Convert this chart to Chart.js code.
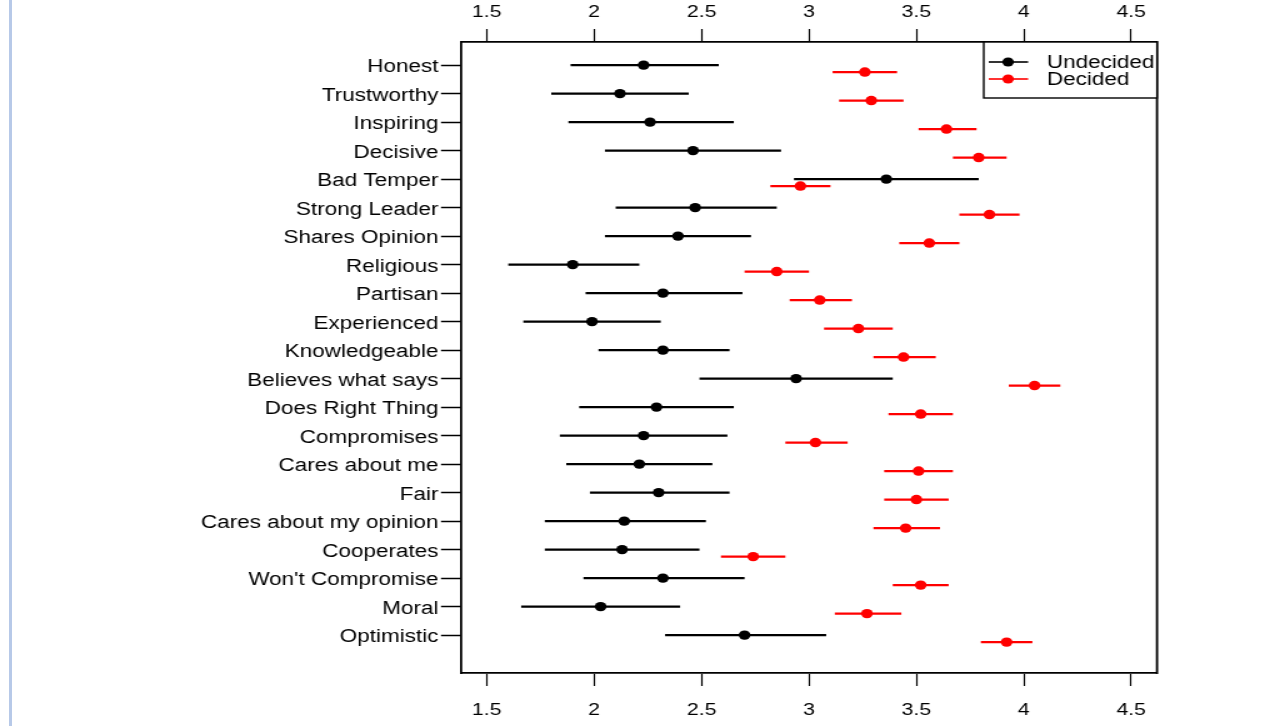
<!DOCTYPE html>
<html>
<head>
<meta charset="utf-8">
<script src="https://cdn.jsdelivr.net/npm/chart.js@4"></script>
<style>
  html, body { margin: 0; padding: 0; background: #fff; overflow: hidden; }
  #wrap { position: absolute; left: 0; top: 0; width: 1012px; height: 726px; transform: scaleX(1.25); transform-origin: 0 0; }
  #edge { position: absolute; left: 9px; top: 0; width: 3px; height: 726px; background: #b7c9e8; }
</style>
</head>
<body>
<div id="wrap"><canvas id="chart" width="1012" height="726"></canvas></div>
<div id="edge"></div>
<script>
// traits, top to bottom
const categories = ["Honest", "Trustworthy", "Inspiring", "Decisive", "Bad Temper", "Strong Leader",
  "Shares Opinion", "Religious", "Partisan", "Experienced", "Knowledgeable", "Believes what says",
  "Does Right Thing", "Compromises", "Cares about me", "Fair", "Cares about my opinion",
  "Cooperates", "Won't Compromise", "Moral", "Optimistic"];

const undecidedMean = [2.23, 2.12, 2.26, 2.46, 3.36, 2.47, 2.39, 1.90, 2.32, 1.99, 2.32, 2.94, 2.29, 2.23, 2.21, 2.30, 2.14, 2.13, 2.32, 2.03, 2.70];
const undecidedLow  = [1.89, 1.80, 1.88, 2.05, 2.93, 2.10, 2.05, 1.60, 1.96, 1.67, 2.02, 2.49, 1.93, 1.84, 1.87, 1.98, 1.77, 1.77, 1.95, 1.66, 2.33];
const undecidedHigh = [2.58, 2.44, 2.65, 2.87, 3.79, 2.85, 2.73, 2.21, 2.69, 2.31, 2.63, 3.39, 2.65, 2.62, 2.55, 2.63, 2.52, 2.49, 2.70, 2.40, 3.08];

const decidedMean = [3.26, 3.29, 3.64, 3.79, 2.96, 3.84, 3.56, 2.85, 3.05, 3.23, 3.44, 4.05, 3.52, 3.03, 3.51, 3.50, 3.45, 2.74, 3.52, 3.27, 3.92];
const decidedLow  = [3.11, 3.14, 3.51, 3.67, 2.82, 3.70, 3.42, 2.70, 2.91, 3.07, 3.30, 3.93, 3.37, 2.89, 3.35, 3.35, 3.30, 2.59, 3.39, 3.12, 3.80];
const decidedHigh = [3.41, 3.44, 3.78, 3.92, 3.10, 3.98, 3.70, 3.00, 3.20, 3.39, 3.59, 4.17, 3.67, 3.18, 3.67, 3.65, 3.61, 2.89, 3.65, 3.43, 4.04];

const xTicks = [1.5, 2, 2.5, 3, 3.5, 4, 4.5];

const FONT = "'Liberation Sans', Arial, sans-serif";
const RED_SHIFT = 0.245; // decided row sits a bit below undecided

function bars(lo, hi, shift) {
  const pts = [];
  lo.forEach((v, i) => {
    pts.push({ x: v, y: i + shift }, { x: hi[i], y: i + shift }, { x: null, y: null });
  });
  return pts;
}
function dots(m, shift) {
  return m.map((v, i) => ({ x: v, y: i + shift }));
}

const groups = [
  { label: "Undecided", color: "#000000", mean: undecidedMean, lo: undecidedLow, hi: undecidedHigh, shift: 0 },
  { label: "Decided", color: "#ff0000", mean: decidedMean, lo: decidedLow, hi: decidedHigh, shift: RED_SHIFT }
];

const datasets = [];
groups.forEach(g => {
  datasets.push({ label: g.label + " CI", data: bars(g.lo, g.hi, g.shift), borderColor: g.color,
    borderWidth: 2.3, pointRadius: 0, spanGaps: false, showLine: true, order: 2 });
  datasets.push({ label: g.label, data: dots(g.mean, g.shift), showLine: false, pointRadius: 4.7,
    pointHoverRadius: 4.7, pointBackgroundColor: g.color, pointBorderWidth: 0, borderColor: g.color, order: 1 });
});

function xAxis(pos, h, pad) {
  return {
    type: 'linear', position: pos, min: 1.38, max: 4.62,
    afterBuildTicks: s => { s.ticks = xTicks.map(v => ({ value: v })); },
    ticks: { font: { family: FONT, size: 17 }, color: '#000', padding: pad, maxRotation: 0,
      callback: v => String(v) },
    grid: { drawOnChartArea: false, tickLength: 13, tickColor: '#000', tickWidth: 1.2 },
    border: { display: true, color: '#000', width: 1.8 },
    afterFit: s => { s.height = h; }
  };
}

// frame right edge + legend box
const extras = {
  id: 'extras',
  afterDraw(chart) {
    const { ctx, chartArea: a } = chart;
    ctx.save();
    ctx.strokeStyle = '#000';
    ctx.lineWidth = 1.8;
    ctx.beginPath();
    ctx.moveTo(a.right, a.top - 0.9);
    ctx.lineTo(a.right, a.bottom + 0.9);
    ctx.stroke();

    const bx = 787, by = a.top, bw = a.right - 787, bh = 56;
    ctx.fillStyle = '#fff';
    ctx.fillRect(bx, by, bw, bh);
    ctx.lineWidth = 1.4;
    ctx.strokeRect(bx, by, bw, bh);
    ctx.font = "18px " + FONT;
    ctx.textBaseline = 'middle';
    groups.forEach((g, k) => {
      const y = by + 20 + k * 17;
      ctx.strokeStyle = g.color;
      ctx.lineWidth = 1.6;
      ctx.beginPath();
      ctx.moveTo(791, y);
      ctx.lineTo(822.5, y);
      ctx.stroke();
      ctx.fillStyle = g.color;
      ctx.beginPath();
      ctx.arc(806.5, y, 4.6, 0, Math.PI * 2);
      ctx.fill();
      ctx.fillStyle = '#000';
      ctx.fillText(g.label, 837.5, y + 1.5);
    });
    ctx.restore();
  }
};

new Chart(document.getElementById('chart').getContext('2d'), {
  type: 'line',
  data: { datasets },
  options: {
    responsive: false,
    animation: false,
    layout: { padding: { left: 0, right: 86.4, top: 0, bottom: 0 } },
    plugins: { legend: { display: false }, tooltip: { enabled: false } },
    scales: {
      x: xAxis('bottom', 53, 14),
      x2: xAxis('top', 42, 6),
      y: {
        type: 'linear', reverse: true, min: -0.81, max: 21.33,
        afterBuildTicks: s => { s.ticks = categories.map((c, i) => ({ value: i })); },
        ticks: { font: { family: FONT, size: 18 }, color: '#000', padding: 2, autoSkip: false,
          labelOffset: 2, callback: v => categories[v] },
        grid: { drawOnChartArea: false, tickLength: 16, tickColor: '#000', tickWidth: 1.5 },
        border: { display: true, color: '#000', width: 1.8 },
        afterFit: s => { s.width = 368.8; }
      }
    }
  },
  plugins: [extras]
});
</script>
</body>
</html>
